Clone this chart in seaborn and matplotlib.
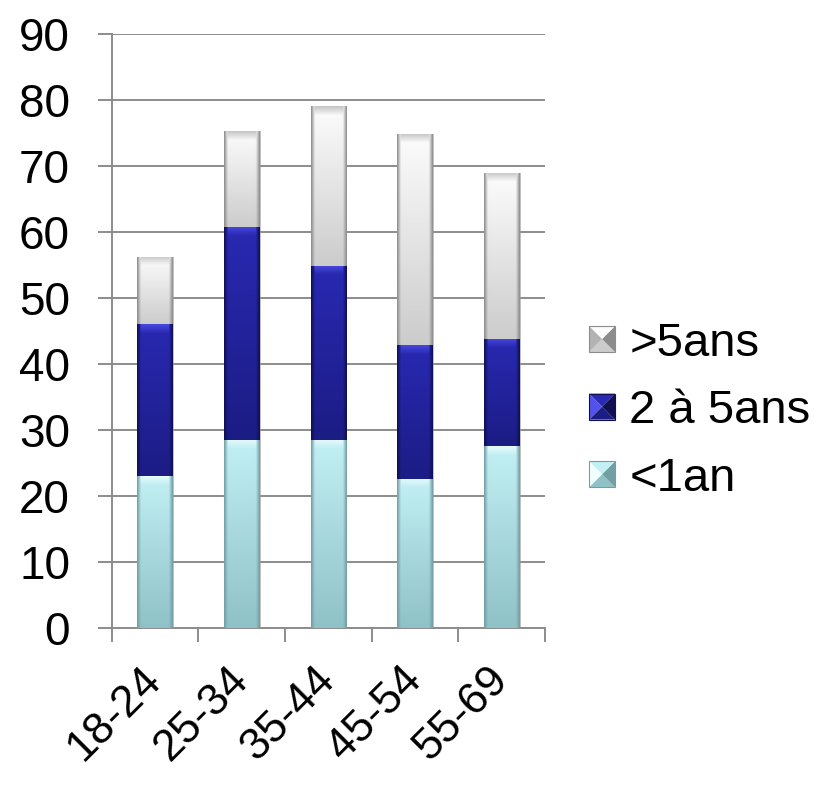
import numpy as np
import pandas as pd
import matplotlib
matplotlib.use("Agg")
import matplotlib.pyplot as plt
import seaborn as sns
from matplotlib.patches import Polygon, Rectangle
from matplotlib.legend_handler import HandlerBase

# --- data -------------------------------------------------------------
ages = ["18-24", "25-34", "35-44", "45-54", "55-69"]
moins_1an = [23.0, 28.5, 28.5, 22.6, 27.5]
de_2_a_5ans = [23.0, 32.3, 26.4, 20.3, 16.3]
plus_5ans = [10.2, 14.5, 24.2, 32.0, 25.2]
series_names = ["<1an", "2 à 5ans", ">5ans"]
y_ticks = [0, 10, 20, 30, 40, 50, 60, 70, 80, 90]

# colour ramps per series: (top-centre, bottom-centre, edge, bevel highlight)
ramps = {
    "<1an": ((0.76, 0.94, 0.96), (0.56, 0.76, 0.78), (0.45, 0.62, 0.64), (0.95, 1.0, 1.0)),
    "2 à 5ans": ((0.16, 0.16, 0.70), (0.11, 0.11, 0.52), (0.06, 0.06, 0.32), (0.32, 0.32, 0.92)),
    ">5ans": ((0.99, 0.99, 0.99), (0.80, 0.80, 0.80), (0.55, 0.55, 0.55), (0.70, 0.70, 0.70)),
}

sns.set_theme(style="white")
plt.rcParams["font.family"] = ["Liberation Sans", "DejaVu Sans"]
plt.rcParams["text.color"] = "black"

fig = plt.figure(figsize=(8.17, 7.85), dpi=100)
ax = fig.add_axes([0.1367, 0.2004, 0.667 - 0.1367, 0.9567 - 0.2004])

df = pd.DataFrame({"age": ages, "<1an": moins_1an, "2 à 5ans": de_2_a_5ans, ">5ans": plus_5ans})
levels = []
running = np.zeros(len(ages))
for name in series_names:
    bottom = running.copy()
    running = running + df[name].to_numpy()
    levels.append((name, bottom, running.copy()))

# draw cumulative totals, tallest first so lower segments sit on top
segments = []
for name, bottom, top in reversed(levels):
    n_before = len(ax.patches)
    sns.barplot(x=ages, y=top, ax=ax, width=0.41, color="white", saturation=1, zorder=3)
    for p, b in zip(ax.patches[n_before:], bottom):
        segments.append((name, p, b))

# shaded fill for each segment, clipped to its own rectangle
px_per_unit = (0.9567 - 0.2004) * 785 / 90.0
for name, p, b in segments:
    x0 = p.get_x()
    w = p.get_width()
    t = p.get_height()
    p.set_facecolor("none")
    p.set_edgecolor("none")
    top_c, bot_c, edge_c, hi_c = [np.array(c) for c in ramps[name]]
    ny, nx = 200, 80
    yy = np.linspace(0, 1, ny)[:, None]          # 0 = top, 1 = bottom
    xx = np.linspace(-1, 1, nx)[None, :]
    base = top_c[None, None, :] * (1 - yy[..., None]) + bot_c[None, None, :] * yy[..., None]
    edge_w = np.clip((np.abs(xx) - 0.78) / 0.22, 0, 1)[..., None]
    img = base * (1 - edge_w) + edge_c[None, None, :] * edge_w
    # bevel highlight along the top of each segment
    seg_px = (t - b) * px_per_unit
    bevel = np.clip(1 - yy * seg_px / 9.0, 0, 1)[..., None]
    bevel = bevel * (np.abs(xx) < 0.8)[..., None]
    img = img * (1 - 0.75 * bevel) + hi_c[None, None, :] * 0.75 * bevel
    img = np.clip(img, 0, 1)
    im = ax.imshow(img, extent=(x0, x0 + w, b, t), aspect="auto", zorder=4,
                   interpolation="bilinear")
    clip = Rectangle((x0, b), w, t - b, transform=ax.transData)
    im.set_clip_path(clip)
    # soft shadow on the right side
    ax.add_patch(Rectangle((x0 + w, b), w * 0.04, t - b, facecolor=(0.6, 0.6, 0.6),
                           edgecolor="none", alpha=0.6, zorder=2))

ax.set_xlim(-0.5, len(ages) - 0.5)
ax.set_ylim(0, 90)
ax.set_yticks(y_ticks)
ax.set_yticklabels([str(v) for v in y_ticks], fontsize=33, color="black")
ax.set_xticks(np.arange(len(ages)))
ax.set_xticklabels(ages, fontsize=32, rotation=45, ha="right", va="center",
                   rotation_mode="anchor", color="black")
ax.grid(axis="y", color="#8c8c8c", linewidth=1.4, zorder=0)
ax.set_axisbelow(True)
for s in ["top", "right"]:
    ax.spines[s].set_visible(False)
ax.spines["left"].set_color("#8c8c8c")
ax.spines["left"].set_linewidth(1.4)
ax.spines["bottom"].set_color("#8c8c8c")
ax.spines["bottom"].set_linewidth(1.4)
ax.tick_params(axis="y", length=10, width=1.4, color="#8c8c8c", pad=20, left=True)
ax.tick_params(axis="x", bottom=False, pad=27)
# category boundary ticks under the axis
ax.set_xticks(np.arange(len(ages) + 1) - 0.5, minor=True)
ax.tick_params(axis="x", which="minor", bottom=True, length=10, width=1.4, color="#8c8c8c")
ax.set_xlabel("")
ax.set_ylabel("")


class PyramidHandler(HandlerBase):
    def __init__(self, name):
        super().__init__()
        self.name = name

    def create_artists(self, legend, orig_handle, xdescent, ydescent, width, height,
                       fontsize, trans):
        top_c, bot_c, edge_c, hi_c = ramps[self.name]
        s = min(width, height)
        x0 = -xdescent + (width - s) / 2
        y0 = -ydescent + (height - s) / 2
        cx, cy = x0 + s / 2, y0 + s / 2
        corners = [(x0, y0), (x0 + s, y0), (x0 + s, y0 + s), (x0, y0 + s)]
        shades = [bot_c, edge_c, top_c, hi_c]
        arts = []
        for i in range(4):
            a, b2 = corners[i], corners[(i + 1) % 4]
            arts.append(Polygon([a, b2, (cx, cy)], closed=True, facecolor=shades[i],
                                edgecolor="none", transform=trans))
        arts.append(Rectangle((x0, y0), s, s, facecolor="none", edgecolor=edge_c,
                              linewidth=0.8, transform=trans))
        return arts


handles = [Rectangle((0, 0), 1, 1) for _ in series_names]
order = [">5ans", "2 à 5ans", "<1an"]
leg = fig.legend(handles, order, loc="center left", bbox_to_anchor=(0.721, 0.476),
                 frameon=False, fontsize=34, handlelength=0.55, handleheight=0.55,
                 handletextpad=0.3, labelspacing=0.5, borderpad=0, borderaxespad=0,
                 handler_map={h: PyramidHandler(n) for h, n in zip(handles, order)})
for txt in leg.get_texts():
    txt.set_color("black")

fig.savefig("out.png", dpi=100, facecolor="white")
